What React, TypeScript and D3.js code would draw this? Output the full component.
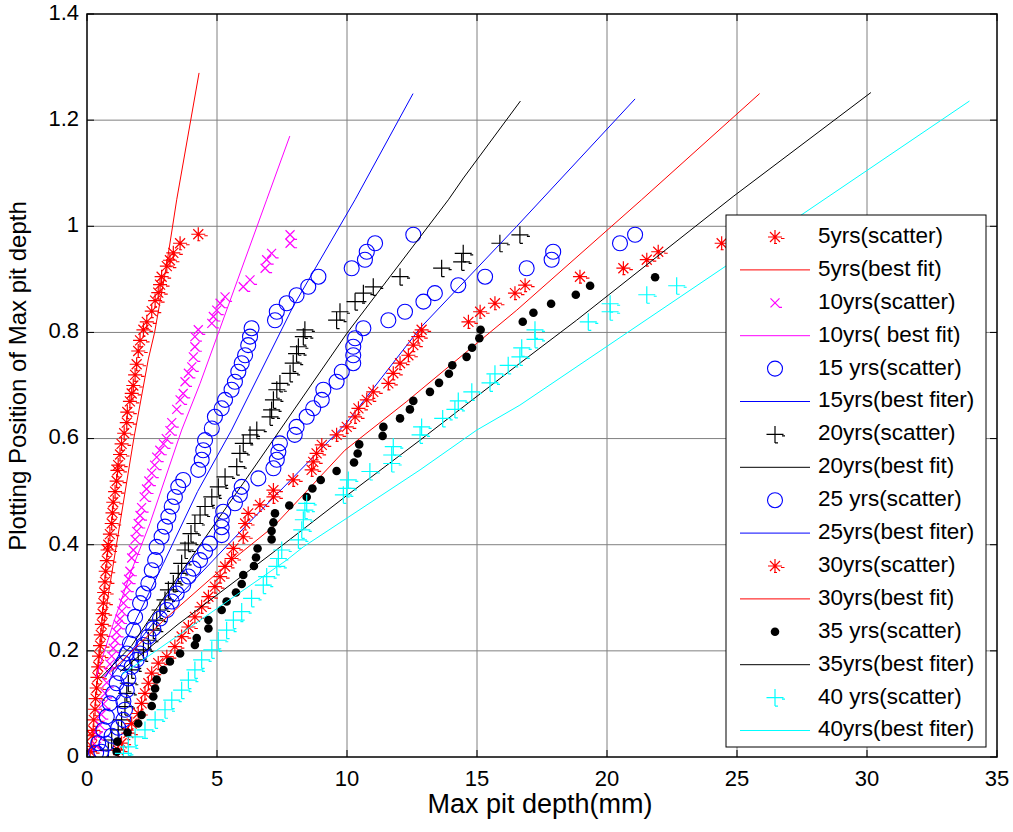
import React from 'react';
import * as d3 from 'd3';

type P = [number, number];

const xTicks = [0, 5, 10, 15, 20, 25, 30, 35];
const yTicks = [0, 0.2, 0.4, 0.6, 0.8, 1, 1.2, 1.4];

const legendLabels = [
  '5yrs(scatter)', '5yrs(best fit)', '10yrs(scatter)', '10yrs( best fit)',
  '15 yrs(scatter)', '15yrs(best fiter)', '20yrs(scatter)', '20yrs(best fit)',
  '25 yrs(scatter)', '25yrs(best fiter)', '30yrs(scatter)', '30yrs(best fit)',
  '35 yrs(scatter)', '35yrs(best fiter)', '40 yrs(scatter)', '40yrs(best fiter)',
];

const sc5: P[] = [[0.12,0.01],[0.18,0.02],[0.2,0.04],[0.24,0.05],[0.26,0.07],[0.31,0.09],[0.33,0.11],[0.37,0.13],[0.4,0.15],[0.43,0.17],[0.46,0.19],[0.5,0.21],[0.53,0.23],[0.57,0.25],[0.6,0.27],[0.63,0.29],[0.66,0.31],[0.69,0.33],[0.72,0.35],[0.76,0.37],[0.79,0.39],[0.82,0.4],[0.88,0.42],[0.95,0.44],[0.98,0.46],[1.01,0.48],[1.08,0.5],[1.14,0.52],[1.17,0.54],[1.2,0.55],[1.27,0.57],[1.33,0.59],[1.43,0.61],[1.53,0.63],[1.55,0.65],[1.65,0.67],[1.72,0.685],[1.78,0.7],[1.85,0.72],[1.91,0.74],[1.97,0.765],[2.04,0.785],[2.17,0.805],[2.3,0.82],[2.49,0.84],[2.62,0.86],[2.74,0.875],[2.81,0.89],[2.87,0.905],[3.07,0.925],[3.19,0.936],[3.32,0.95],[3.58,0.968],[4.28,0.985]];
const sc10: P[] = [[0.37,0.02],[0.43,0.04],[0.5,0.06],[0.55,0.08],[0.63,0.1],[0.7,0.12],[0.76,0.14],[0.82,0.16],[0.88,0.175],[0.95,0.19],[1.01,0.205],[1.08,0.22],[1.14,0.235],[1.2,0.25],[1.27,0.26],[1.34,0.275],[1.4,0.29],[1.47,0.305],[1.53,0.32],[1.6,0.335],[1.65,0.35],[1.72,0.375],[1.78,0.39],[1.85,0.41],[1.91,0.425],[1.97,0.44],[2.04,0.455],[2.1,0.47],[2.2,0.49],[2.29,0.505],[2.38,0.52],[2.49,0.535],[2.6,0.55],[2.68,0.565],[2.8,0.578],[2.94,0.59],[3.05,0.6],[3.19,0.615],[3.26,0.63],[3.45,0.655],[3.58,0.673],[3.7,0.685],[3.77,0.707],[3.9,0.723],[4.03,0.735],[4.09,0.754],[4.15,0.773],[4.15,0.792],[4.28,0.805],[4.8,0.817],[4.86,0.83],[4.99,0.842],[5.12,0.855],[5.31,0.867],[6.01,0.886],[6.27,0.899],[6.85,0.921],[6.91,0.937],[7.1,0.949],[7.81,0.968],[7.81,0.984]];
const sc15: P[] = [[0.35,0.008],[0.43,0.026],[0.63,0.051],[0.76,0.076],[0.88,0.101],[1.01,0.12],[1.14,0.139],[1.27,0.158],[1.4,0.177],[1.53,0.195],[1.65,0.214],[1.78,0.239],[1.85,0.264],[2.04,0.29],[2.17,0.308],[2.36,0.327],[2.49,0.352],[2.62,0.371],[2.68,0.396],[2.87,0.415],[3.0,0.434],[3.13,0.453],[3.26,0.472],[3.38,0.49],[3.51,0.509],[3.7,0.522],[4.28,0.541],[4.41,0.56],[4.47,0.578],[4.54,0.597],[4.8,0.619],[4.92,0.641],[5.18,0.657],[5.31,0.673],[5.56,0.692],[5.69,0.707],[5.82,0.726],[5.95,0.742],[6.08,0.757],[6.2,0.776],[6.27,0.792],[6.33,0.808],[7.23,0.823],[7.3,0.839],[7.68,0.855],[8.06,0.87],[8.51,0.886],[8.9,0.905],[10.18,0.921],[10.69,0.937],[10.76,0.952],[11.08,0.968],[12.55,0.984]];
const sc20: P[] = [[0.82,0.013],[0.95,0.032],[1.2,0.051],[1.33,0.07],[1.46,0.095],[1.53,0.12],[1.59,0.139],[1.72,0.164],[1.97,0.183],[2.17,0.202],[2.36,0.22],[2.55,0.239],[2.68,0.258],[2.81,0.277],[3.0,0.296],[3.13,0.315],[3.32,0.327],[3.51,0.346],[3.64,0.365],[3.77,0.39],[3.9,0.403],[4.0,0.421],[4.15,0.44],[4.35,0.456],[4.54,0.472],[4.8,0.49],[5.05,0.509],[5.31,0.528],[5.76,0.547],[5.88,0.572],[6.01,0.591],[6.27,0.607],[6.53,0.616],[7.04,0.641],[7.1,0.654],[7.17,0.673],[7.3,0.692],[7.42,0.704],[7.81,0.723],[7.93,0.742],[8.06,0.76],[8.13,0.773],[8.32,0.792],[8.38,0.805],[9.6,0.823],[9.73,0.839],[10.31,0.858],[10.63,0.874],[11.01,0.886],[12.04,0.905],[13.64,0.921],[14.41,0.933],[14.47,0.949],[15.88,0.968],[16.65,0.984]];
const sc25: P[] = [[0.55,0.01],[0.75,0.025],[0.95,0.04],[1.2,0.055],[1.4,0.07],[1.46,0.089],[1.4,0.105],[1.53,0.126],[1.59,0.148],[1.72,0.17],[1.91,0.183],[2.04,0.195],[2.17,0.211],[2.36,0.227],[2.55,0.242],[2.81,0.261],[3.07,0.277],[3.26,0.293],[3.45,0.308],[3.7,0.324],[3.9,0.34],[4.09,0.355],[4.35,0.371],[4.54,0.387],[4.73,0.402],[5.18,0.418],[5.18,0.433],[5.18,0.446],[5.24,0.462],[5.69,0.478],[5.88,0.494],[5.95,0.509],[6.59,0.525],[7.17,0.544],[7.3,0.56],[7.36,0.575],[7.42,0.591],[7.99,0.607],[8.06,0.622],[8.45,0.641],[8.7,0.657],[9.03,0.673],[9.09,0.692],[9.6,0.707],[9.8,0.726],[10.24,0.742],[10.24,0.757],[10.24,0.773],[10.31,0.789],[10.63,0.808],[11.59,0.823],[12.23,0.839],[12.94,0.858],[13.38,0.874],[14.28,0.889],[15.31,0.905],[16.91,0.921],[17.87,0.937],[17.93,0.952],[20.5,0.968],[21.08,0.984]];
const sc30: P[] = [[1.2,0.013],[1.33,0.026],[1.59,0.045],[1.72,0.063],[1.97,0.082],[2.1,0.101],[2.23,0.12],[2.36,0.139],[2.49,0.158],[2.74,0.177],[3.07,0.189],[3.38,0.208],[3.64,0.227],[3.9,0.245],[4.15,0.264],[4.41,0.283],[4.67,0.302],[4.92,0.321],[5.12,0.34],[5.31,0.359],[5.56,0.374],[5.63,0.393],[6.01,0.415],[6.08,0.44],[6.2,0.459],[6.65,0.475],[7.17,0.49],[7.17,0.503],[7.93,0.522],[8.64,0.541],[8.7,0.556],[8.83,0.572],[9.03,0.588],[9.6,0.607],[9.99,0.622],[10.31,0.641],[10.44,0.657],[10.76,0.673],[11.01,0.688],[11.59,0.704],[11.78,0.723],[12.04,0.742],[12.36,0.757],[12.55,0.776],[12.74,0.792],[12.87,0.805],[14.67,0.82],[15.12,0.839],[15.69,0.855],[16.46,0.874],[16.85,0.889],[18.96,0.905],[20.63,0.921],[21.53,0.937],[21.97,0.952],[24.41,0.968]];
const sc35: P[] = [[1.14,0.01],[1.17,0.029],[1.56,0.046],[1.97,0.063],[2.1,0.079],[2.49,0.096],[2.55,0.114],[2.62,0.129],[2.68,0.146],[2.94,0.164],[3.19,0.18],[3.58,0.195],[4.15,0.211],[4.22,0.224],[4.67,0.242],[4.67,0.258],[5.18,0.277],[5.37,0.293],[5.73,0.31],[5.95,0.326],[6.01,0.343],[6.42,0.36],[6.5,0.376],[6.56,0.393],[7.1,0.41],[7.1,0.426],[7.17,0.442],[7.23,0.459],[7.78,0.474],[8.45,0.49],[8.67,0.506],[8.99,0.522],[9.6,0.539],[10.27,0.555],[10.41,0.572],[10.47,0.589],[11.37,0.605],[11.4,0.622],[12.04,0.638],[12.42,0.655],[12.55,0.671],[13.19,0.688],[13.54,0.705],[13.92,0.722],[14.05,0.738],[14.6,0.754],[14.81,0.771],[15.09,0.789],[15.14,0.805],[16.76,0.82],[17.17,0.837],[17.85,0.854],[18.8,0.871],[19.35,0.888],[21.85,0.904]];
const sc40: P[] = [[1.4,0.007],[1.59,0.019],[1.85,0.038],[2.23,0.051],[2.62,0.07],[3.0,0.089],[3.26,0.107],[3.64,0.126],[3.9,0.145],[4.15,0.164],[4.41,0.183],[4.8,0.202],[5.05,0.22],[5.37,0.239],[5.63,0.258],[5.95,0.274],[6.33,0.299],[6.78,0.324],[6.91,0.34],[7.3,0.359],[7.36,0.374],[7.49,0.39],[8.13,0.409],[8.26,0.428],[8.32,0.447],[8.38,0.465],[8.45,0.478],[9.86,0.494],[9.99,0.506],[10.05,0.522],[10.88,0.538],[11.72,0.553],[11.72,0.569],[11.78,0.585],[12.81,0.607],[12.87,0.622],[13.68,0.638],[14.15,0.655],[14.28,0.671],[14.8,0.688],[15.5,0.705],[15.69,0.722],[16.2,0.738],[16.65,0.754],[16.72,0.771],[17.23,0.787],[17.23,0.805],[19.28,0.82],[20.12,0.839],[20.12,0.854],[21.53,0.871],[22.68,0.888]];

const fit5: P[] = [[0.35,0.15],[0.8,0.3],[1.3,0.45],[1.8,0.6],[2.36,0.75],[2.6,0.8],[3.07,0.93],[3.45,1.05],[4.31,1.289]];
const fit10: P[] = [[0.35,0.15],[1.0,0.25],[1.7,0.35],[2.42,0.44],[3.64,0.616],[4.35,0.704],[6.91,1.05],[7.8,1.17]];
const fit15: P[] = [[0.7,0.15],[1.2,0.19],[2.94,0.365],[4.25,0.5],[5.56,0.616],[7.93,0.849],[10.31,1.05],[12.54,1.25]];
const fit20: P[] = [[0.5,0.148],[1.72,0.21],[3.5,0.34],[6.01,0.516],[9.99,0.798],[13.9,1.05],[14.48,1.091],[16.67,1.236]];
const fit25: P[] = [[0.9,0.15],[2.5,0.25],[4.86,0.371],[6.08,0.434],[9.99,0.63],[12.81,0.808],[16.53,1.0],[21.08,1.24]];
const fit30: P[] = [[0.9,0.16],[3.0,0.26],[5.5,0.368],[7.17,0.434],[9.92,0.578],[12.3,0.67],[16.53,0.842],[21.33,1.05],[25.87,1.25]];
const fit35: P[] = [[1.27,0.161],[3.5,0.25],[5.5,0.324],[7.04,0.381],[9.92,0.49],[12.81,0.597],[16.65,0.742],[18.83,0.823],[24.85,1.056],[30.15,1.252]];
const fit40: P[] = [[1.33,0.155],[7.68,0.371],[8.32,0.396],[12.81,0.541],[14.99,0.616],[16.65,0.663],[24.54,0.924],[33.94,1.236]];

type Kind = 'star' | 'x' | 'circle' | 'dot' | 'plus';

const scatterSeries: { data: P[]; kind: Kind; color: string }[] = [
  { data: sc5, kind: 'star', color: '#ff0000' },
  { data: sc10, kind: 'x', color: '#ff00ff' },
  { data: sc15, kind: 'circle', color: '#0000ff' },
  { data: sc20, kind: 'plus', color: '#000000' },
  { data: sc25, kind: 'circle', color: '#0000ff' },
  { data: sc30, kind: 'star', color: '#ff0000' },
  { data: sc35, kind: 'dot', color: '#000000' },
  { data: sc40, kind: 'plus', color: '#00ffff' },
];
const fitSeries: { data: P[]; color: string }[] = [
  { data: fit5, color: '#ff0000' },
  { data: fit10, color: '#ff00ff' },
  { data: fit15, color: '#0000ff' },
  { data: fit20, color: '#000000' },
  { data: fit25, color: '#0000ff' },
  { data: fit30, color: '#ff0000' },
  { data: fit35, color: '#000000' },
  { data: fit40, color: '#00ffff' },
];

function Marker({ kind, cx, cy, color }: { kind: Kind; cx: number; cy: number; color: string }) {
  const sw = 1.2;
  if (kind === 'circle') return <circle cx={cx} cy={cy} r={7.5} fill="none" stroke={color} strokeWidth={1.1} />;
  if (kind === 'dot') return <circle cx={cx} cy={cy} r={4.3} fill={color} />;
  let d = '';
  if (kind === 'star') {
    const a = 7, b = 5;
    d = `M${cx - a},${cy}H${cx + a}M${cx},${cy - a}V${cy + a}M${cx - b},${cy - b}L${cx + b},${cy + b}M${cx - b},${cy + b}L${cx + b},${cy - b}` +
      `M${cx + 6},${cy + 1.5}h3.5M${cx - 1},${cy + 6.5}h3`;
  } else if (kind === 'x') {
    const b = 4.5;
    d = `M${cx - b},${cy - b}L${cx + b},${cy + b}M${cx - b},${cy + b}L${cx + b},${cy - b}M${cx + 4},${cy + 4.5}h3`;
  } else if (kind === 'plus') {
    const a = 8.5;
    d = `M${cx - a},${cy}H${cx + a}M${cx},${cy - a}V${cy + a}M${cx + 7},${cy + 1.5}h3M${cx},${cy + a}h3`;
  }
  return <path d={d} fill="none" stroke={color} strokeWidth={sw} />;
}

export default function App() {
  const W = 1013, H = 832;
  const L = 87, R = 997, T = 14, B = 757;
  const x = d3.scaleLinear().domain([0, 35]).range([L, R]);
  const y = d3.scaleLinear().domain([0, 1.4]).range([B, T]);
  const line = d3.line<P>().x(d => x(d[0])).y(d => y(d[1]));
  const font = 'Arial, "Liberation Sans", Helvetica, sans-serif';

  const legX = 726, legY = 215, legW = 260, legH = 532;
  const legStep = 32.9, legFirst = 237;

  const layers: React.ReactNode[] = [];
  scatterSeries.forEach((s, i) => {
    layers.push(
      <g key={'s' + i}>
        {s.data.map((p, j) => <Marker key={j} kind={s.kind} cx={x(p[0])} cy={y(p[1])} color={s.color} />)}
      </g>
    );
    const f = fitSeries[i];
    layers.push(<path key={'f' + i} d={line(f.data) || ''} fill="none" stroke={f.color} strokeWidth={1} />);
  });

  return (
    <svg width={W} height={H} style={{ position: 'absolute', left: 0, top: 0, display: 'block', background: '#fff' }}
      fontFamily={font}>
      <rect x={0} y={0} width={W} height={H} fill="#fff" />
      <g stroke="#808080" strokeWidth={1}>
        {xTicks.slice(1, -1).map(t => <line key={'gx' + t} x1={x(t)} x2={x(t)} y1={T} y2={B} />)}
        {yTicks.slice(1, -1).map(t => <line key={'gy' + t} x1={L} x2={R} y1={y(t)} y2={y(t)} />)}
      </g>
      <defs>
        <clipPath id="plotclip"><rect x={L} y={T} width={R - L} height={B - T} /></clipPath>
      </defs>
      <g clipPath="url(#plotclip)">{layers}</g>
      <rect x={L} y={T} width={R - L} height={B - T} fill="none" stroke="#000" strokeWidth={1.5} />
      <g stroke="#000" strokeWidth={1}>
        {xTicks.map(t => <g key={'tx' + t}>
          <line x1={x(t)} x2={x(t)} y1={B} y2={B - 7} />
          <line x1={x(t)} x2={x(t)} y1={T} y2={T + 7} />
        </g>)}
        {yTicks.map(t => <g key={'ty' + t}>
          <line x1={L} x2={L + 7} y1={y(t)} y2={y(t)} />
          <line x1={R} x2={R - 7} y1={y(t)} y2={y(t)} />
        </g>)}
      </g>
      <g fontSize={22} fill="#000">
        {xTicks.map(t => <text key={'lx' + t} x={x(t)} y={B + 23} textAnchor="middle" dominantBaseline="middle">{String(t)}</text>)}
        {yTicks.map(t => <text key={'ly' + t} x={L - 8} y={y(t)} textAnchor="end" dominantBaseline="middle">{String(t)}</text>)}
      </g>
      <text x={540} y={806} textAnchor="middle" dominantBaseline="middle" fontSize={27}>Max pit depth(mm)</text>
      <text transform={`translate(20,${376}) rotate(-90)`} textAnchor="middle" dominantBaseline="middle" fontSize={24}>Plotting Position of Max pit depth</text>
      <rect x={legX} y={legY} width={legW} height={legH} fill="#fff" stroke="#000" strokeWidth={1} />
      {legendLabels.map((lab, i) => {
        const cy = legFirst + i * legStep;
        const si = Math.floor(i / 2);
        const isScatter = i % 2 === 0;
        return (
          <g key={'lg' + i}>
            {isScatter
              ? <Marker kind={scatterSeries[si].kind} cx={775} cy={cy} color={scatterSeries[si].color} />
              : <line x1={740} x2={810} y1={cy} y2={cy} stroke={fitSeries[si].color} strokeWidth={1} />}
            <text x={818} y={cy} fontSize={22.5} dominantBaseline="middle">{lab}</text>
          </g>
        );
      })}
    </svg>
  );
}
